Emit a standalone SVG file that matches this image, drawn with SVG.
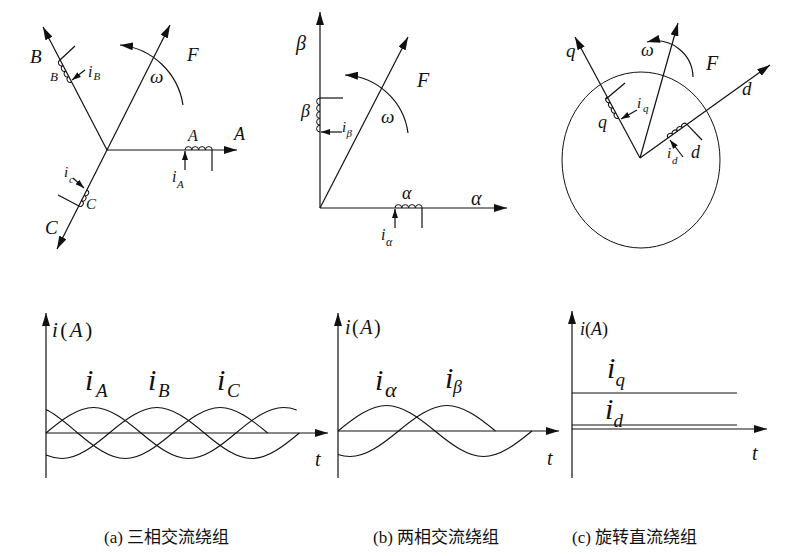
<svg xmlns="http://www.w3.org/2000/svg" width="795" height="556" viewBox="0 0 795 556">
<style>
.ax{stroke:#111;stroke-width:1.2;fill:none}
.cv{stroke:#111;stroke-width:1.1;fill:none}
.coil{stroke:#111;stroke-width:1;fill:none}
.lb{font-family:"Liberation Serif",serif;font-style:italic;fill:#111}
.cap{font-family:"Liberation Serif","Noto Sans CJK SC",sans-serif;font-size:17px;fill:#111}
.up{font-style:normal}
</style>
<defs>
<marker id="ah" markerWidth="13" markerHeight="8" refX="13" refY="4" orient="auto" markerUnits="userSpaceOnUse"><path d="M0,0 L13,4 L0,8 z" fill="#111"/></marker>
<marker id="as" markerWidth="9" markerHeight="6" refX="9" refY="3" orient="auto" markerUnits="userSpaceOnUse"><path d="M0,0 L9,3 L0,6 z" fill="#111"/></marker>
</defs>
<rect width="795" height="556" fill="#fff"/>

<g id="connectors">
<line class="ax" x1="107" y1="150" x2="237" y2="150" marker-end="url(#ah)"/>
<line class="ax" x1="107" y1="150" x2="43" y2="27" marker-end="url(#ah)"/>
<line class="ax" x1="107" y1="150" x2="57" y2="249" marker-end="url(#ah)"/>
<line class="ax" x1="107" y1="150" x2="170" y2="25" marker-end="url(#ah)"/>
<path class="ax" d="M183,105 A71,71 0 0 0 120,45" marker-end="url(#ah)"/>
<line class="ax" x1="320" y1="208" x2="320" y2="12" marker-end="url(#ah)"/>
<line class="ax" x1="320" y1="208" x2="507" y2="208" marker-end="url(#ah)"/>
<line class="ax" x1="320" y1="208" x2="408" y2="37" marker-end="url(#ah)"/>
<path class="ax" d="M408,133 A67,67 0 0 0 345,75" marker-end="url(#ah)"/>
<line class="ax" x1="640" y1="158" x2="575" y2="37" marker-end="url(#ah)"/>
<line class="ax" x1="640" y1="158" x2="770" y2="65" marker-end="url(#ah)"/>
<line class="ax" x1="640" y1="158" x2="678" y2="23" marker-end="url(#ah)"/>
<path class="ax" d="M693,77 A37,37 0 0 0 647,42" marker-end="url(#ah)"/>
<line class="ax" x1="46" y1="478" x2="46" y2="313" marker-end="url(#ah)"/>
<line class="ax" x1="46" y1="433" x2="328" y2="433" marker-end="url(#ah)"/>
<line class="ax" x1="338" y1="478" x2="338" y2="313" marker-end="url(#ah)"/>
<line class="ax" x1="338" y1="431" x2="559" y2="431" marker-end="url(#ah)"/>
<line class="ax" x1="572" y1="478" x2="572" y2="311" marker-end="url(#ah)"/>
<line class="ax" x1="572" y1="429" x2="767" y2="429" marker-end="url(#ah)"/>
</g>

<g id="panel-a-top">
<path class="coil" d="M185,150 a3.4,3.4 0 0 1 6.8,0 a3.4,3.4 0 0 1 6.8,0 a3.4,3.4 0 0 1 6.8,0 a3.4,3.4 0 0 1 6.8,0"/>
<line class="ax" x1="212" y1="150" x2="212" y2="171"/>
<line class="ax" x1="185" y1="170" x2="185" y2="151" marker-end="url(#as)"/>
<path class="coil" transform="translate(71.6,82) rotate(-117.5)" d="M0,0 a3.1,3.1 0 0 1 6.2,0 a3.1,3.1 0 0 1 6.2,0 a3.1,3.1 0 0 1 6.2,0 a3.1,3.1 0 0 1 6.2,0"/>
<line class="ax" x1="60" y1="60" x2="75" y2="46"/>
<line class="ax" x1="85" y1="70" x2="72" y2="80" marker-end="url(#as)"/>
<path class="coil" transform="translate(87,190) rotate(116.6)" d="M0,0 a3,3 0 0 1 6,0 a3,3 0 0 1 6,0 a3,3 0 0 1 6,0"/>
<line class="ax" x1="79" y1="206" x2="58" y2="195"/>
<line class="ax" x1="73" y1="178" x2="84" y2="188" marker-end="url(#as)"/>
<text class="lb" x="30" y="63" font-size="19">B</text>
<text class="lb" x="187" y="61" font-size="19">F</text>
<text class="lb" x="150" y="83" font-size="19">ω</text>
<text class="lb" x="234" y="140" font-size="18">A</text>
<text class="lb" x="188" y="141" font-size="16">A</text>
<text class="lb" x="50" y="81" font-size="13">B</text>
<text class="lb" x="88" y="77" font-size="16">i</text><text class="lb" x="93.5" y="80" font-size="11">B</text>
<text class="lb" x="172" y="182" font-size="16">i</text><text class="lb" x="177" y="188" font-size="11">A</text>
<text class="lb" x="45" y="234" font-size="19">C</text>
<text class="lb" x="86" y="209" font-size="15">C</text>
<text class="lb" x="64" y="177" font-size="15">i</text><text class="lb" x="69" y="183" font-size="11">c</text>
</g>

<g id="panel-b-top">
<path class="coil" d="M320,98 a3.4,3.4 0 0 0 0,6.8 a3.4,3.4 0 0 0 0,6.8 a3.4,3.4 0 0 0 0,6.8 a3.4,3.4 0 0 0 0,6.8 a3.4,3.4 0 0 0 0,6.8"/>
<line class="ax" x1="320" y1="98" x2="343" y2="98"/>
<line class="ax" x1="342" y1="132" x2="321" y2="132" marker-end="url(#as)"/>
<path class="coil" d="M395,208 a3.4,3.4 0 0 1 6.8,0 a3.4,3.4 0 0 1 6.8,0 a3.4,3.4 0 0 1 6.8,0 a3.4,3.4 0 0 1 6.8,0"/>
<line class="ax" x1="422" y1="208" x2="422" y2="228"/>
<line class="ax" x1="395" y1="228" x2="395" y2="209" marker-end="url(#as)"/>
<text class="lb" x="296" y="50" font-size="20">β</text>
<text class="lb" x="301" y="117" font-size="18">β</text>
<text class="lb" x="342" y="132" font-size="15">i</text><text class="lb" x="346.5" y="137" font-size="11">β</text>
<text class="lb" x="471" y="205" font-size="20">α</text>
<text class="lb" x="402" y="199" font-size="18">α</text>
<text class="lb" x="381" y="240" font-size="16">i</text><text class="lb" x="386" y="246" font-size="12">α</text>
<text class="lb" x="417" y="87" font-size="20">F</text>
<text class="lb" x="381" y="123" font-size="19">ω</text>
</g>

<g id="panel-c-top">
<ellipse class="ax" cx="641" cy="160" rx="79" ry="88" style="stroke-width:1"/>
<path class="coil" transform="translate(618.5,118) rotate(-118.2)" d="M0,0 a2.97,2.97 0 0 1 5.94,0 a2.97,2.97 0 0 1 5.94,0 a2.97,2.97 0 0 1 5.94,0 a2.97,2.97 0 0 1 5.94,0"/>
<line class="ax" x1="606" y1="99" x2="625" y2="83"/>
<line class="ax" x1="637" y1="110" x2="621" y2="119" marker-end="url(#as)"/>
<path class="coil" transform="translate(668,138) rotate(-35.6)" d="M0,0 a2.9,2.9 0 0 1 5.8,0 a2.9,2.9 0 0 1 5.8,0 a2.9,2.9 0 0 1 5.8,0 a2.9,2.9 0 0 1 5.8,0"/>
<line class="ax" x1="687" y1="124.4" x2="702" y2="140"/>
<line class="ax" x1="683" y1="157" x2="670" y2="140" marker-end="url(#as)"/>
<text class="lb" x="566" y="57" font-size="19">q</text>
<text class="lb" x="742" y="95" font-size="19">d</text>
<text class="lb" x="706" y="70" font-size="20">F</text>
<text class="lb" x="641" y="56" font-size="18">ω</text>
<text class="lb" x="598" y="128" font-size="18">q</text>
<text class="lb" x="637" y="108" font-size="15">i</text><text class="lb" x="643" y="112" font-size="11">q</text>
<text class="lb" x="691" y="158" font-size="18">d</text>
<text class="lb" x="667" y="158" font-size="15">i</text><text class="lb" x="672" y="164" font-size="11">d</text>
</g>

<g id="panel-a-bottom">
<path class="cv" d="M46,433 C61.83,419.65 77.67,407.5 93.5,407.5 C109.33,407.5 125.17,419.65 141,433 C156.83,446.35 172.67,458.5 188.5,458.5 C204.33,458.5 220.17,446.35 236,433 C251.83,419.65 267.67,407.5 283.5,407.5 C287.9,407.5 292.3,408.33 296.7,409.9"/>
<path class="cv" d="M46,455.08 C51.28,457.3 56.55,458.5 61.83,458.5 C77.66,458.5 93.5,446.35 109.33,433 C125.16,419.65 141,407.5 156.83,407.5 C172.66,407.5 188.5,419.65 204.33,433 C220.16,446.35 236,458.5 251.83,458.5 C267.66,458.5 283.5,446.35 299.33,433"/>
<path class="cv" d="M46,409.5 C56.56,414.5 67.11,424.1 77.67,433 C93.5,446.35 109.33,458.5 125.17,458.5 C141,458.5 156.83,446.35 172.67,433 C188.5,419.65 204.33,407.5 220.17,407.5 C236,407.5 251.83,419.65 267.67,433"/>
<text class="lb" x="52" y="337" font-size="21" letter-spacing="2.5">i<tspan class="up">(</tspan>A<tspan class="up">)</tspan></text>
<text class="lb" x="85" y="390" font-size="30">i</text><text class="lb" x="96" y="397" font-size="19">A</text>
<text class="lb" x="148" y="390" font-size="30">i</text><text class="lb" x="158" y="397" font-size="19">B</text>
<text class="lb" x="217" y="390" font-size="30">i</text><text class="lb" x="227" y="397" font-size="19">C</text>
<text class="lb" x="315" y="466" font-size="20">t</text>
</g>

<g id="panel-b-bottom">
<path class="cv" d="M338,431 C354.17,417.65 370.33,405.5 386.5,405.5 C402.67,405.5 418.83,417.65 435,431 C451.17,444.35 467.33,456.5 483.5,456.5 C499.67,456.5 515.83,444.35 532,431"/>
<path class="cv" d="M337.87,454.56 C341.91,455.84 345.96,456.5 350,456.5 C366.17,456.5 382.33,444.35 398.5,431 C414.67,417.65 430.83,405.5 447,405.5 C463.17,405.5 479.33,417.65 495.5,431"/>
<text class="lb" x="345" y="334" font-size="20" letter-spacing="1.5">i<tspan class="up">(</tspan>A<tspan class="up">)</tspan></text>
<text class="lb" x="375" y="390" font-size="30">i</text><text class="lb" x="385" y="397" font-size="22">α</text>
<text class="lb" x="445" y="388" font-size="30">i</text><text class="lb" x="453" y="393" font-size="18">β</text>
<text class="lb" x="547" y="465" font-size="20">t</text>
</g>

<g id="panel-c-bottom">
<line class="cv" x1="572" y1="393" x2="737" y2="393"/>
<line class="cv" x1="572" y1="425" x2="737" y2="425"/>
<text class="lb" x="580" y="335" font-size="18">i<tspan class="up">(</tspan>A<tspan class="up">)</tspan></text>
<text class="lb" x="607" y="378" font-size="30">i</text><text class="lb" x="615.5" y="386" font-size="19">q</text>
<text class="lb" x="605" y="419" font-size="30">i</text><text class="lb" x="613.5" y="427" font-size="19">d</text>
<text class="lb" x="752" y="460" font-size="20">t</text>
</g>

<g id="captions">
<text class="cap" x="104" y="543">(a) 三相交流绕组</text>
<text class="cap" x="373" y="543">(b) 两相交流绕组</text>
<text class="cap" x="572" y="543">(c) 旋转直流绕组</text>
</g>
</svg>
